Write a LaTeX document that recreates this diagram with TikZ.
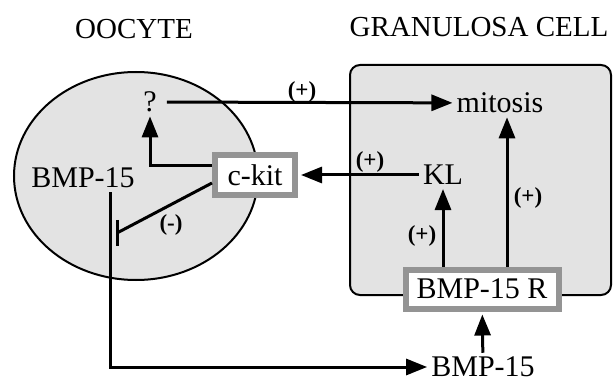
\documentclass[tikz,border=0pt]{standalone}
\usepackage{fontspec}
\setmainfont{Liberation Serif}
\usetikzlibrary{positioning}
\usetikzlibrary{calc}
\usetikzlibrary{arrows.meta}

\begin{document}
\begin{tikzpicture}[x=1pt, y=-1pt,
    txt/.style={font=\fontsize{30}{32}\selectfont, inner sep=4pt},
    head/.style={font=\fontsize{29}{31}\selectfont},
    sign/.style={font=\bfseries\fontsize{23}{24}\selectfont, inner sep=1pt},
    grbox/.style={draw=black!42, line width=6pt, fill=white, font=\fontsize{30}{32}\selectfont, inner sep=0pt},
    flow/.style={line width=3pt, -{Triangle[length=21pt, width=16pt]}},
    stop/.style={line width=3pt}]

    \useasboundingbox (0,0) rectangle (613,382);

    \draw[line width=2pt, fill=black!11] (136,176) ellipse [x radius=122, y radius=104];
    \draw[line width=2pt, fill=black!11, rounded corners=10pt] (350,65) rectangle (611,295);

    \node[head] (ooc) at (134,29) {OOCYTE};
    \node[head] (gran) at (479,27) {GRANULOSA CELL};

    \node[txt] (q) at (150,102) {?};
    \node[txt] (mit) at (500,103) {mitosis};
    \node[txt] (bmpin) at (83,178) {BMP-15};
    \node[grbox, minimum width=80pt, minimum height=40pt] (ckit) at (255,175) {c-kit};
    \node[txt] (kl) at (443,175) {KL};
    \node[grbox, minimum width=153pt, minimum height=39pt] (rec) at (482,289) {BMP-15 R};
    \node[txt] (bmpout) at (483,367) {BMP-15};

    \draw[flow, shorten <=6pt] (q) -- (mit);
    \node[sign] (s1) at (302,92) {(+)};
    \draw[flow] ([yshift=9pt]ckit.west) -| (q);
    \draw[flow, shorten >=3pt] (kl) -- (ckit);
    \node[sign] (s2) at (370,162) {(+)};
    \draw[flow] (rec.north -| kl) -- (kl);
    \node[sign] (s3) at (422,236) {(+)};
    \coordinate (mitin) at ([xshift=7pt]mit.south);
    \draw[flow] (rec.north -| mitin) -- (mitin);
    \node[sign] (s4) at (528,198) {(+)};
    \draw[flow, shorten >=3pt] (bmpout) -- (rec);
    \draw[flow] ([xshift=27pt]bmpin.south) |- (bmpout);

    \coordinate (blk) at (117,233);
    \draw[stop] ([yshift=-8pt]ckit.west) -- (blk);
    \draw[stop] ($(blk)+(0,-13)$) -- ($(blk)+(0,13)$);
    \node[sign] (s5) at (171,225) {(-)};
\end{tikzpicture}
\end{document}
